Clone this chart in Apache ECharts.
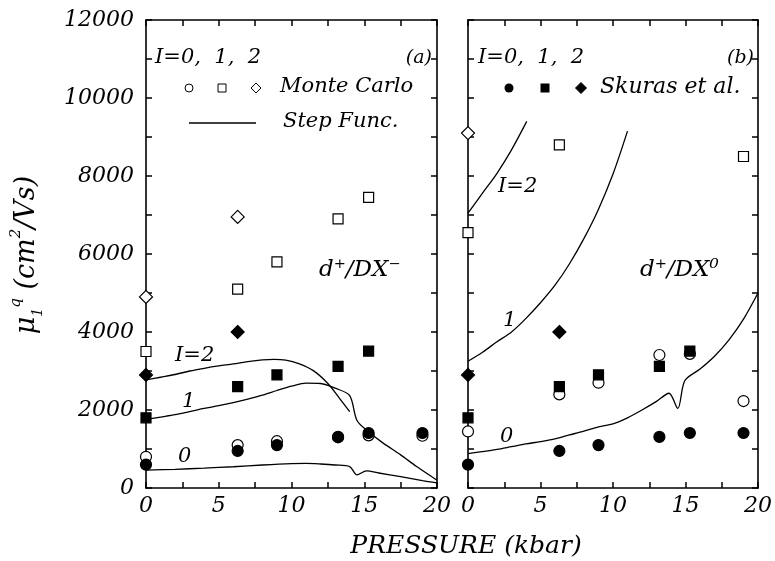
<!DOCTYPE html>
<html>
<head>
<meta charset="utf-8">
<title>mobility vs pressure</title>
<script src="https://cdn.jsdelivr.net/npm/echarts/dist/echarts.min.js"></script>
<style>
  body { margin: 0; background: #fff; }
</style>
</head>
<body>
<div id="main" style="width:775px; height:561px;"></div>
<script type="text/javascript">
// pressure (kbar) where the points were measured / simulated
var pressure = [0, 6.3, 9.0, 13.2, 15.3, 19.0]

// Skuras et al. (filled marks, same in both panels)
var skurasI0 = [600, 950, 1100, 1310, 1410, 1410]
var skurasI1 = [1800, 2600, 2900, 3120, 3510]
var skurasI2 = [2900, 4000]

// Monte Carlo, panel (a) d+/DX-
var mcA_I0 = [800, 1100, 1200, 1300, 1350, 1340]
var mcA_I1 = [3500, 5100, 5800, 6900, 7450]
var mcA_I2 = [4900, 6950]

// Monte Carlo, panel (b) d+/DX0
var mcB_I0 = [1450, 2400, 2700, 3410, 3440, 2230]
var mcB_I1x = [0, 6.3, 19.0]
var mcB_I1 = [6550, 8800, 8500]
var mcB_I2 = [9100]

// step function curves [pressure, mobility]
var stepA_I2 = [[0, 2770], [1, 2840], [2, 2910], [3, 3000], [4, 3070], [5, 3130], [6, 3180], [7, 3240], [8, 3285], [8.8, 3300], [9.6, 3280], [10.5, 3190], [11.5, 3010], [12.5, 2680], [13.3, 2300], [14.0, 1960]]
var stepA_I1 = [[0, 1760], [1, 1820], [2, 1880], [3, 1960], [4, 2040], [5, 2110], [6, 2190], [7, 2280], [8, 2380], [9, 2500], [10, 2610], [11, 2690], [12, 2680], [13, 2560], [14, 2370], [14.5, 1730], [15.3, 1440], [16.3, 1150], [17.5, 850], [18.6, 550], [20, 200]]
var stepA_I0 = [[0, 460], [2, 480], [4, 510], [6, 545], [8, 590], [10, 625], [11, 630], [12, 615], [13, 590], [14, 550], [14.5, 335], [15.15, 440], [16, 385], [17.5, 290], [19, 190], [20, 130]]
var stepB_I2 = [[0, 7050], [1, 7560], [2, 8070], [3, 8670], [4.05, 9400]]
var stepB_I1 = [[0, 3250], [1, 3480], [2, 3750], [3, 4000], [4, 4350], [5, 4750], [6, 5200], [7, 5750], [8, 6400], [9, 7150], [10, 8050], [11, 9150]]
var stepB_I0 = [[0, 880], [1, 930], [2, 990], [3, 1060], [4, 1130], [5, 1190], [6, 1260], [7, 1360], [8, 1460], [9, 1570], [10, 1645], [11, 1800], [12, 2000], [13, 2220], [13.86, 2430], [14.47, 2040], [14.95, 2750], [16, 3050], [17, 3380], [18, 3800], [19, 4330], [20, 5000]]

var xTicks = [0, 5, 10, 15, 20]
var yTicks = [0, 2000, 4000, 6000, 8000, 10000, 12000]

var font = 'DejaVu Serif'

var pts = function(xs, ys) {
    return ys.map(function(y, i) { return [xs[i], y] })
}

var xAx = function(grid, pos, labels) {
    return {
        type: 'value', gridIndex: grid, position: pos,
        min: 0, max: 20, interval: 2.5,
        axisLine: { onZero: false, lineStyle: { color: '#000', width: 1.6 } },
        axisTick: { inside: true, length: 6, lineStyle: { color: '#000', width: 1.5 } },
        splitLine: { show: false },
        axisLabel: {
            show: labels, margin: 7, color: '#000',
            fontFamily: font, fontStyle: 'italic', fontSize: 22,
            formatter: function(v) { return xTicks.indexOf(v) >= 0 ? String(v) : '' }
        }
    }
}

var yAx = function(grid, pos, labels) {
    return {
        type: 'value', gridIndex: grid, position: pos,
        min: 0, max: 12000, interval: 1000,
        axisLine: { onZero: false, lineStyle: { color: '#000', width: 1.6 } },
        axisTick: { inside: true, length: 6, lineStyle: { color: '#000', width: 1.5 } },
        splitLine: { show: false },
        axisLabel: {
            show: labels, margin: 12, color: '#000',
            fontFamily: font, fontStyle: 'italic', fontSize: 22,
            formatter: function(v) { return yTicks.indexOf(v) >= 0 ? String(v) : '' }
        }
    }
}

var scatter = function(grid, symbol, filled, data, size) {
    return {
        type: 'scatter', xAxisIndex: grid * 2, yAxisIndex: grid * 2,
        symbol: symbol, symbolSize: size, data: data,
        itemStyle: { color: filled ? '#000' : '#fff', borderColor: '#000', borderWidth: 1.2, opacity: 1 },
        z: filled ? 4 : 3
    }
}

var curve = function(grid, data) {
    return {
        type: 'line', xAxisIndex: grid * 2, yAxisIndex: grid * 2,
        data: data, symbol: 'none', smooth: 0.3,
        lineStyle: { color: '#000', width: 1.3 }, z: 2
    }
}

var txt = function(x, y, s, size, align) {
    return {
        type: 'text', x: x, y: y, z: 10,
        style: {
            text: s, fill: '#000', fontFamily: font, fontStyle: 'italic', fontSize: size || 21,
            align: align || 'left', verticalAlign: 'middle'
        }
    }
}

var diamond = function(cx, cy, r, filled) {
    return {
        type: 'polygon', z: 10,
        shape: { points: [[cx, cy - r], [cx + r, cy], [cx, cy + r], [cx - r, cy]] },
        style: { fill: filled ? '#000' : '#fff', stroke: '#000', lineWidth: 1 }
    }
}

var myChart = echarts.init(document.querySelector('#main'))

var option = {
    animation: false,
    backgroundColor: '#fff',
    grid: [
        { left: 146, top: 20, width: 291, height: 468 },
        { left: 468, top: 20, width: 292, height: 468 }
    ],
    xAxis: [xAx(0, 'bottom', true), xAx(0, 'top', false), xAx(1, 'bottom', true), xAx(1, 'top', false)],
    yAxis: [yAx(0, 'left', true), yAx(0, 'right', false), yAx(1, 'left', false), yAx(1, 'right', false)],
    series: [
        curve(0, stepA_I2), curve(0, stepA_I1), curve(0, stepA_I0),
        curve(1, stepB_I2), curve(1, stepB_I1), curve(1, stepB_I0),

        scatter(0, 'circle', false, pts(pressure, mcA_I0), 11),
        scatter(0, 'rect', false, pts(pressure, mcA_I1), 10),
        scatter(0, 'diamond', false, pts(pressure, mcA_I2), 13),
        scatter(0, 'circle', true, pts(pressure, skurasI0), 11),
        scatter(0, 'rect', true, pts(pressure, skurasI1), 10),
        scatter(0, 'diamond', true, pts(pressure, skurasI2), 13),

        scatter(1, 'circle', false, pts(pressure, mcB_I0), 11),
        scatter(1, 'rect', false, pts(mcB_I1x, mcB_I1), 10),
        scatter(1, 'diamond', false, pts(pressure, mcB_I2), 13),
        scatter(1, 'circle', true, pts(pressure, skurasI0), 11),
        scatter(1, 'rect', true, pts(pressure, skurasI1), 10),
        scatter(1, 'diamond', true, pts(pressure, skurasI2), 13)
    ],
    graphic: [
        // y axis title
        {
            type: 'text', x: 27, y: 255, rotation: Math.PI / 2, z: 10,
            style: {
                text: '{m|μ}{s|1}{q|q}{m| (cm}{q|2}{m|/Vs)}',
                align: 'center', verticalAlign: 'middle',
                rich: {
                    m: { fontFamily: font, fontStyle: 'italic', fontSize: 27, fill: '#000', lineHeight: 36, verticalAlign: 'middle' },
                    s: { fontFamily: font, fontStyle: 'italic', fontSize: 14, fill: '#000', lineHeight: 36, verticalAlign: 'bottom' },
                    q: { fontFamily: font, fontStyle: 'italic', fontSize: 15, fill: '#000', lineHeight: 36, verticalAlign: 'top' }
                }
            }
        },
        txt(466, 546, 'PRESSURE (kbar)', 25, 'center'),

        // panel (a) legend
        txt(155, 58, 'I=0,  1,  2', 21),
        txt(432, 58, '(a)', 19, 'right'),
        { type: 'circle', z: 10, shape: { cx: 189, cy: 88, r: 4 }, style: { fill: '#fff', stroke: '#000', lineWidth: 1 } },
        { type: 'rect', z: 10, shape: { x: 218, y: 84, width: 8, height: 8 }, style: { fill: '#fff', stroke: '#000', lineWidth: 1 } },
        diamond(256, 88, 5, false),
        txt(280, 87, 'Monte Carlo', 21),
        { type: 'line', z: 10, shape: { x1: 189, y1: 123, x2: 256, y2: 123 }, style: { stroke: '#000', lineWidth: 1.3 } },
        txt(283, 122, 'Step Func.', 21),
        txt(319, 270, 'd⁺/DX⁻', 23),
        txt(175, 356, 'I=2', 21),
        txt(182, 402, '1', 21),
        txt(178, 457, '0', 21),

        // panel (b) legend
        txt(478, 58, 'I=0,  1,  2', 21),
        txt(754, 58, '(b)', 19, 'right'),
        { type: 'circle', z: 10, shape: { cx: 509, cy: 88, r: 4.5 }, style: { fill: '#000' } },
        { type: 'rect', z: 10, shape: { x: 540.5, y: 83.5, width: 9, height: 9 }, style: { fill: '#000' } },
        diamond(581, 88, 5.5, true),
        txt(600, 87, 'Skuras et al.', 22),
        txt(640, 270, 'd⁺/DX⁰', 23),
        txt(498, 187, 'I=2', 21),
        txt(503, 321, '1', 21),
        txt(500, 437, '0', 21)
    ]
}

myChart.setOption(option)
</script>
</body>
</html>
